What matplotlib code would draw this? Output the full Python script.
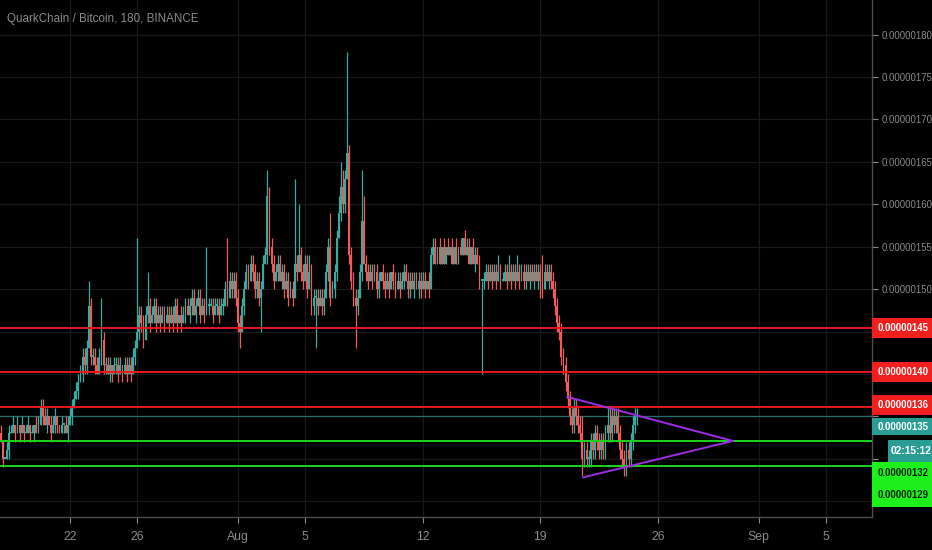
import matplotlib
matplotlib.use('Agg')
import matplotlib.pyplot as plt
import matplotlib.dates as mdates
from matplotlib.patches import Rectangle
from matplotlib.ticker import FuncFormatter
import pandas as pd

# ---------------- data (prices in satoshi, 1e-8 BTC) ----------------
first_open = 133
closes = [
    132, 130, 130, 131, 133, 133, 134, 133, 134, 133,
    134, 133, 133, 134, 133, 133, 134, 133, 134, 136,
    135, 134, 135, 134, 133, 134, 135, 134, 133, 134,
    134, 133, 134, 135, 136, 137, 138, 139, 140, 142,
    141, 143, 148, 142, 142, 141, 140, 142, 144, 141,
    141, 140, 141, 140, 141, 141, 140, 141, 140, 141,
    140, 141, 140, 142, 143, 145, 147, 146, 144, 147,
    148, 146, 147, 148, 146, 147, 146, 147, 146, 147,
    146, 147, 146, 148, 146, 147, 146, 147, 148, 147,
    148, 149, 147, 148, 149, 147, 148, 147, 148, 148,
    148, 147, 148, 148, 147, 148, 148, 150, 149, 151,
    150, 151, 149, 146, 145, 148, 150, 152, 151, 153,
    152, 150, 151, 149, 150, 153, 154, 161, 155, 153,
    151, 152, 153, 151, 152, 150, 151, 149, 150, 149,
    153, 152, 154, 152, 151, 153, 150, 152, 148, 149,
    149, 148, 149, 148, 149, 152, 155, 149, 150, 152,
    156, 159, 162, 160, 163, 166, 154, 151, 149, 148,
    149, 152, 158, 153, 152, 151, 152, 151, 152, 150,
    151, 152, 151, 150, 151, 150, 152, 151, 150, 151,
    150, 151, 152, 151, 150, 151, 150, 151, 150, 151,
    150, 151, 150, 151, 150, 154, 155, 153, 155, 153,
    155, 153, 155, 154, 155, 153, 155, 153, 155, 154,
    156, 154, 155, 153, 155, 153, 154, 153, 151, 151,
    151, 152, 151, 152, 151, 152, 151, 152, 151, 151,
    152, 151, 152, 151, 152, 151, 152, 151, 152, 151,
    152, 151, 152, 151, 152, 151, 152, 151, 150, 152,
    151, 152, 151, 150, 148, 146, 145, 142, 141, 139,
    137, 135, 134, 136, 135, 134, 133, 130, 131, 130,
    130, 132, 131, 133, 132, 131, 132, 131, 133, 134,
    133, 135, 134, 135, 133, 131, 130, 129, 131, 130,
    132, 134, 135, 135,
]
upper_wicks = [
    1, 0, 0, 1, 1, 1, 1, 0, 1, 0,
    1, 0, 1, 1, 0, 1, 0, 1, 1, 1,
    1, 1, 1, 0, 1, 1, 1, 0, 0, 1,
    0, 1, 1, 1, 1, 1, 1, 1, 1, 1,
    1, 1, 3, 1, 1, 1, 1, 1, 5, 1,
    1, 1, 1, 0, 1, 1, 1, 1, 0, 1,
    1, 1, 1, 1, 1, 11, 1, 1, 1, 1,
    4, 1, 1, 1, 1, 1, 1, 1, 1, 1,
    1, 1, 1, 1, 1, 0, 1, 1, 1, 1,
    1, 1, 1, 1, 1, 1, 1, 1, 7, 1,
    1, 1, 1, 1, 1, 1, 1, 1, 6, 1,
    1, 1, 1, 1, 1, 1, 1, 1, 1, 1,
    1, 1, 1, 1, 1, 1, 1, 3, 1, 1,
    1, 1, 1, 1, 1, 1, 1, 1, 1, 1,
    10, 1, 6, 1, 1, 1, 1, 2, 1, 1,
    1, 1, 1, 1, 1, 1, 1, 4, 1, 1,
    1, 2, 3, 2, 1, 12, 1, 1, 1, 1,
    1, 1, 6, 3, 1, 1, 1, 1, 1, 1,
    1, 0, 1, 1, 1, 1, 0, 1, 1, 1,
    1, 1, 1, 1, 1, 1, 1, 1, 1, 1,
    1, 1, 1, 0, 1, 1, 1, 1, 0, 1,
    0, 1, 0, 1, 0, 1, 0, 1, 0, 1,
    0, 1, 1, 1, 0, 1, 1, 1, 1, 0,
    1, 1, 1, 1, 1, 1, 1, 2, 1, 1,
    1, 1, 2, 1, 1, 1, 2, 1, 1, 1,
    1, 1, 1, 1, 1, 1, 1, 1, 3, 1,
    1, 1, 1, 1, 1, 1, 1, 1, 1, 1,
    1, 1, 1, 1, 1, 1, 1, 2, 1, 1,
    1, 1, 1, 1, 1, 1, 1, 1, 1, 2,
    2, 1, 1, 1, 1, 1, 1, 1, 1, 1,
    1, 1, 1, 1,
]
lower_wicks = [
    0, 1, 0, 0, 1, 0, 0, 1, 0, 1,
    0, 1, 0, 0, 1, 0, 1, 0, 0, 0,
    1, 0, 1, 0, 1, 0, 1, 1, 0, 0,
    1, 0, 1, 0, 1, 0, 0, 1, 0, 1,
    1, 1, 0, 1, 1, 1, 0, 0, 1, 1,
    1, 0, 1, 1, 0, 1, 1, 0, 1, 0,
    1, 0, 1, 0, 1, 0, 1, 1, 1, 0,
    1, 1, 0, 1, 1, 0, 1, 0, 1, 0,
    1, 0, 1, 0, 1, 0, 1, 0, 1, 0,
    1, 1, 0, 1, 0, 1, 0, 1, 0, 1,
    0, 1, 0, 1, 1, 0, 1, 0, 1, 0,
    1, 1, 1, 1, 2, 0, 1, 0, 1, 0,
    1, 1, 1, 1, 4, 0, 0, 1, 1, 1,
    1, 0, 1, 0, 1, 1, 0, 1, 0, 1,
    0, 1, 0, 1, 1, 0, 1, 0, 1, 1,
    6, 1, 0, 1, 1, 0, 1, 1, 0, 1,
    1, 0, 1, 1, 1, 0, 1, 1, 1, 5,
    1, 0, 1, 0, 1, 1, 0, 1, 0, 1,
    1, 0, 1, 1, 0, 1, 0, 1, 1, 0,
    1, 0, 1, 0, 1, 1, 0, 1, 0, 1,
    1, 0, 1, 0, 1, 0, 1, 0, 0, 0,
    0, 0, 0, 0, 0, 0, 0, 0, 0, 0,
    0, 0, 0, 0, 0, 0, 1, 0, 1, 11,
    1, 0, 1, 0, 1, 0, 1, 0, 1, 0,
    0, 1, 0, 1, 0, 1, 0, 1, 0, 1,
    1, 0, 1, 0, 1, 0, 1, 2, 1, 0,
    0, 1, 1, 1, 1, 1, 1, 1, 1, 1,
    1, 1, 1, 1, 1, 1, 1, 2, 1, 1,
    1, 1, 1, 1, 1, 1, 1, 1, 1, 1,
    1, 1, 1, 1, 1, 1, 1, 1, 1, 1,
    1, 1, 1, 1,
]
start_time = '2019-07-17 21:00'
bar_interval = '3h'

resistance_levels = [145.4, 140.2, 136.1]
resistance_labels = ['0.00000145', '0.00000140', '0.00000136']
support_levels = [132.1, 129.2]
support_labels = ['0.00000132', '0.00000129']
last_price = 135
last_price_label = '0.00000135'
countdown = '02:15:12'

tri_upper = [('2019-08-20 14:00', 137.3), ('2019-08-30 11:00', 132.1)]
tri_lower = [('2019-08-21 13:00', 127.8), ('2019-08-30 11:00', 132.1)]

date_ticks = ['2019-07-22', '2019-07-26', '2019-08-01', '2019-08-05', '2019-08-12',
              '2019-08-19', '2019-08-26', '2019-09-01', '2019-09-05']
date_labels = ['22', '26', 'Aug', '5', '12', '19', '26', 'Sep', '5']
price_grid = list(range(125, 185, 5))
price_ticks_labelled = list(range(150, 185, 5))

title = 'QuarkChain / Bitcoin, 180, BINANCE'

# ---------------- style ----------------
UP = '#33ad9f'
DOWN = '#ef5a5a'
BG = '#000000'
GRID = '#181818'
TXT = '#8a8a8a'
plt.rcParams['font.family'] = ['Liberation Sans', 'DejaVu Sans']

W, H = 932, 550
fig = plt.figure(figsize=(W / 100, H / 100), dpi=100, facecolor=BG)
ax_right_px = 872
ax_bottom_px = 517
ax = fig.add_axes([0, (H - ax_bottom_px) / H, ax_right_px / W, ax_bottom_px / H])
ax.set_facecolor(BG)

times = pd.date_range(start_time, periods=len(closes), freq=bar_interval)
xs = mdates.date2num(times.to_pydatetime())
opens = [first_open] + closes[:-1]
highs = [max(o, c) + u for o, c, u in zip(opens, closes, upper_wicks)]
lows = [min(o, c) - d for o, c, d in zip(opens, closes, lower_wicks)]
cols = [UP if c >= o else DOWN for o, c in zip(opens, closes)]

bar_w = 0.125 * 0.9
ax.vlines(xs, lows, highs, colors=cols, linewidth=0.9, zorder=3)
bottoms = [min(o, c) for o, c in zip(opens, closes)]
heights = [max(abs(c - o), 0.2) for o, c in zip(opens, closes)]
ax.bar(xs, heights, bottom=bottoms, width=bar_w, color=cols, linewidth=0, zorder=4)

# current price line
ax.axhline(last_price, color='#1f6e69', lw=0.9, zorder=2)
# levels
for lv in resistance_levels:
    ax.axhline(lv, color='#e8191b', lw=1.4, zorder=5)
for lv in support_levels:
    ax.axhline(lv, color='#1ed31e', lw=1.4, zorder=5)

# triangle
for seg in (tri_upper, tri_lower):
    tx = [mdates.date2num(pd.Timestamp(p[0]).to_pydatetime()) for p in seg]
    ty = [p[1] for p in seg]
    ax.plot(tx, ty, color='#9b2fe0', lw=1.4, zorder=6, solid_capstyle='round')

# axes limits
ax.set_xlim(mdates.date2num(pd.Timestamp('2019-07-17 20:00').to_pydatetime()),
            mdates.date2num(pd.Timestamp('2019-09-07 17:45').to_pydatetime()))
ax.set_ylim(123.13, 184.09)

# ticks and grid
ax.set_xticks([mdates.date2num(pd.Timestamp(d).to_pydatetime()) for d in date_ticks])
ax.set_xticklabels(date_labels)
ax.set_yticks(price_ticks_labelled)
ax.set_yticks(price_grid, minor=True)
ax.yaxis.set_major_formatter(FuncFormatter(lambda v, p: f'{v * 1e-8:.8f}'))
ax.yaxis.tick_right()
ax.tick_params(axis='y', which='both', colors=TXT, labelsize=6.9, length=4, width=0.8, pad=3)
ax.tick_params(axis='x', colors=TXT, labelsize=8.8, length=4, width=0.8, pad=6)
for t in ax.get_yticklines() + ax.get_xticklines() + ax.yaxis.get_minorticklines():
    t.set_color('#4a4a4a')
ax.grid(True, which='both', color=GRID, lw=0.9, zorder=0)
ax.set_axisbelow(True)
for s in ('top', 'left'):
    ax.spines[s].set_visible(False)
for s in ('right', 'bottom'):
    ax.spines[s].set_color('#4d4d4d')
    ax.spines[s].set_linewidth(1.0)

# title
fig.text(7 / W, 1 - 19 / H, title, color=TXT, fontsize=8.4, va='center', ha='left')

# price labels on right scale (pixel layout)
def data_y_to_px(v):
    disp = ax.transData.transform((0, v))[1]
    return H - disp

def label_box(y_center, h, text, fc, tc, x0=ax_right_px, fs=6.9):
    rect = Rectangle((x0 / W, 1 - (y_center + h / 2) / H), (W - x0) / W, h / H,
                     transform=fig.transFigure, facecolor=fc, edgecolor='none', zorder=10)
    fig.patches.append(rect)
    fig.text((x0 + (W - x0) / 2 + 1) / W, 1 - y_center / H, text, color=tc, fontsize=fs,
             ha='center', va='center', zorder=11, fontweight='bold')

fig.canvas.draw()
red_centers = [data_y_to_px(lv) for lv in resistance_levels]
red_centers[2] = red_centers[2] - 2
for yc, txt in zip(red_centers, resistance_labels):
    label_box(yc, 20, txt, '#f21f1f', 'white')
label_box(426.5, 17, last_price_label, '#2a9d95', 'white')
label_box(451, 22, countdown, '#2a9d95', 'white', x0=888, fs=7.4)
label_box(473.5, 23, support_labels[0], '#1df01d', '#0a220a')
label_box(495.5, 23, support_labels[1], '#1df01d', '#0a220a')

fig.savefig('out.png', dpi=100, facecolor=BG)
